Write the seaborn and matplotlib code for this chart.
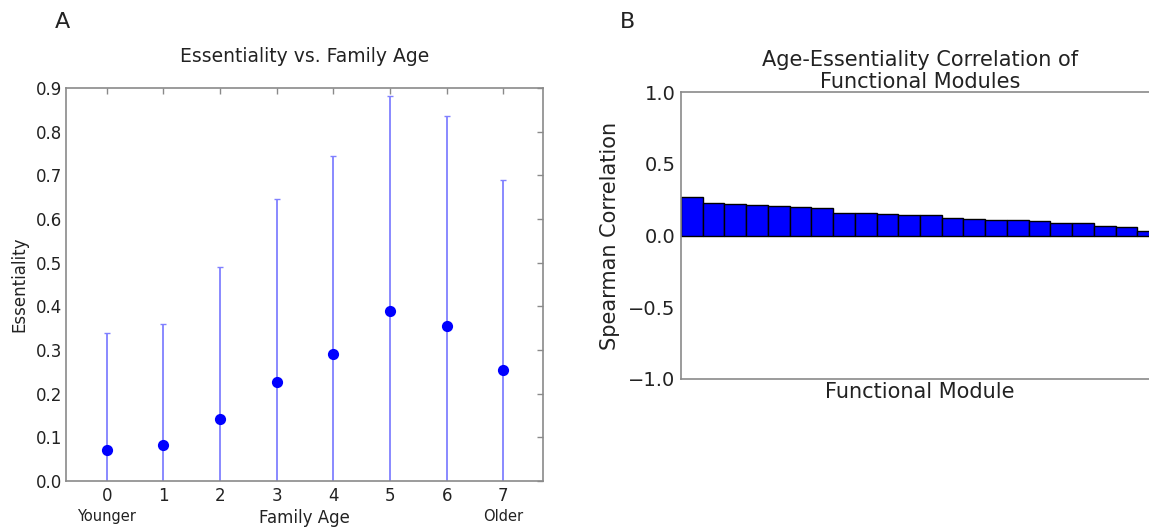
import numpy as np
import pandas as pd
import seaborn as sns
import matplotlib
matplotlib.use("Agg")
import matplotlib.pyplot as plt

# Panel A: mean essentiality and spread per family-age bin
family_age = [0, 1, 2, 3, 4, 5, 6, 7]
essentiality_mean = [0.072, 0.083, 0.142, 0.227, 0.290, 0.390, 0.356, 0.254]
essentiality_upper = [0.340, 0.360, 0.490, 0.645, 0.745, 0.882, 0.835, 0.690]

# Panel B: Spearman correlation per functional module (sorted)
module_corr = [0.266, 0.225, 0.220, 0.215, 0.208, 0.201, 0.192, 0.160,
               0.155, 0.148, 0.141, 0.141, 0.122, 0.113, 0.106, 0.106,
               0.102, 0.090, 0.086, 0.069, 0.062, 0.034]

y_ticks_a = [0.0, 0.1, 0.2, 0.3, 0.4, 0.5, 0.6, 0.7, 0.8, 0.9]
y_ticks_b = [1.0, 0.5, 0.0, -0.5, -1.0]

sns.set_style("white")
plt.rcParams["font.family"] = ["DejaVu Sans"]
plt.rcParams["axes.edgecolor"] = "#8a8a8a"
plt.rcParams["axes.linewidth"] = 1.2
plt.rcParams["text.color"] = "#222222"
plt.rcParams["axes.labelcolor"] = "#222222"
plt.rcParams["xtick.color"] = "#8a8a8a"
plt.rcParams["ytick.color"] = "#8a8a8a"
plt.rcParams["xtick.labelcolor"] = "#222222"
plt.rcParams["ytick.labelcolor"] = "#222222"

W, H = 1149, 527
fig = plt.figure(figsize=(W / 100, H / 100), dpi=100)


def px_axes(left, top, right, bottom):
    return fig.add_axes([left / W, 1 - bottom / H, (right - left) / W, (bottom - top) / H])


# ---- Panel A ----
ax1 = px_axes(66, 88, 543, 481)
df_a = pd.DataFrame({"age": family_age, "ess": essentiality_mean,
                     "up": essentiality_upper})
spread = df_a["up"] - df_a["ess"]
ax1.errorbar(df_a["age"], df_a["ess"], yerr=spread, fmt="none",
             ecolor=(0.5, 0.5, 1.0), elinewidth=1.3, capsize=2.5,
             capthick=1.0, zorder=2)
sns.scatterplot(data=df_a, x="age", y="ess", ax=ax1, color="#0000ff",
                s=65, edgecolor="#0000ff", linewidth=0, zorder=3)
ax1.set_xlim(-0.72, 7.7)
ax1.set_ylim(0, 0.9)
ax1.set_yticks(y_ticks_a)
ax1.set_yticklabels([f"{v:.1f}" for v in y_ticks_a])
ax1.set_xticks(family_age)
ax1.set_xticklabels([str(a) for a in family_age])
ax1.tick_params(axis="both", direction="in", length=4, width=1,
                labelsize=12, top=True, right=True, pad=4)
ax1.tick_params(axis="y", pad=3)
ax1.set_title("Essentiality vs. Family Age", fontsize=13.5, pad=19)
ax1.set_ylabel("Essentiality", fontsize=12, labelpad=5)
ax1.set_xlabel("Family Age", fontsize=12, labelpad=3)
ax1.text(0, -0.09, "Younger", transform=ax1.get_xaxis_transform(),
         ha="center", va="center", fontsize=10.5)
ax1.text(7, -0.09, "Older", transform=ax1.get_xaxis_transform(),
         ha="center", va="center", fontsize=10.5)

# ---- Panel B ----
ax2 = px_axes(681, 92, 1159, 379)
df_b = pd.DataFrame({"module": [str(i) for i in range(len(module_corr))],
                     "corr": module_corr})
sns.barplot(data=df_b, x="module", y="corr", ax=ax2, color="#0000ff",
            saturation=1, width=1.0, edgecolor="black", linewidth=1)
ax2.set_xlim(-0.5, len(module_corr) - 0.5)
ax2.set_ylim(-1.0, 1.0)
ax2.set_yticks(y_ticks_b)
ax2.set_yticklabels([f"{v:.1f}".replace("-", "\u2212") for v in y_ticks_b])
ax2.set_xticks([])
ax2.tick_params(axis="y", length=0, labelsize=14, pad=4)
ax2.set_title("Age-Essentiality Correlation of\nFunctional Modules",
              fontsize=15, pad=3, linespacing=1.12)
ax2.set_ylabel("Spearman Correlation", fontsize=15, labelpad=6)
ax2.set_xlabel("Functional Module", fontsize=15, labelpad=2)

fig.text(62 / W, 1 - 22 / H, "A", fontsize=16, ha="center", va="center")
fig.text(627 / W, 1 - 22 / H, "B", fontsize=16, ha="center", va="center")

fig.savefig("out.png", dpi=100, facecolor="white")
